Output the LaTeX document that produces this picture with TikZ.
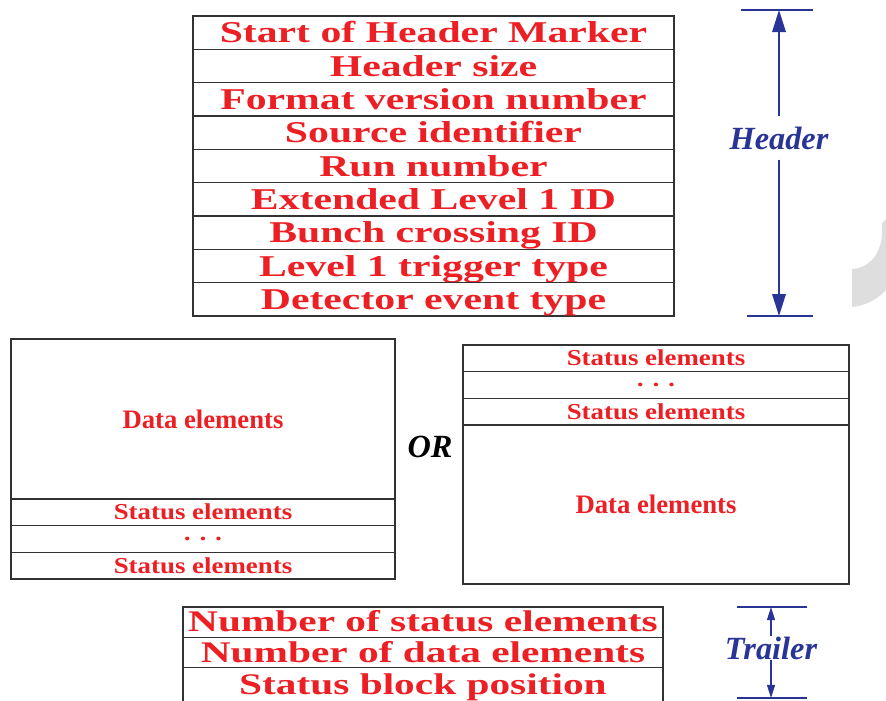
\documentclass[tikz,border=0pt]{standalone}
\usepackage{fontspec}
\setmainfont{Liberation Serif}
\newfontfamily\wideserif[FakeStretch=1.38]{Liberation Serif}
\newfontfamily\midserif[FakeStretch=1.18]{Liberation Serif}
\usepackage{tikz}
\usetikzlibrary{positioning}
\usetikzlibrary{arrows.meta}

\definecolor{fieldred}{RGB}{236,32,36}
\definecolor{markblue}{RGB}{40,52,150}
\definecolor{boxgray}{RGB}{50,50,50}

\begin{document}
\begin{tikzpicture}[
    x=0.025cm, y=-0.025cm,
    field/.style={rectangle,draw=boxgray,line width=0.9pt,inner sep=0pt,outer sep=0pt,text=fieldred},
    bigrow/.style={field,minimum width=12.025cm,minimum height=0.833cm,
        text height=0.5cm,text depth=0cm,
        font={\wideserif\fontsize{21.5}{22}\selectfont\bfseries}},
    tailrow/.style={field,minimum width=12cm,minimum height=0.76cm,
        text height=0.48cm,text depth=0cm,
        font={\wideserif\fontsize{21.3}{22}\selectfont\bfseries}},
    statrow/.style={field,minimum height=0.667cm,
        text height=0.37cm,text depth=0cm,
        font={\midserif\fontsize{16.2}{16}\selectfont\bfseries}},
    databox/.style={field,minimum height=4cm,
        text height=0.45cm,text depth=0cm,
        font={\fontsize{19}{19}\selectfont\bfseries}},
    span/.style={text=markblue,font={\fontsize{23}{23}\selectfont\bfseries\itshape},inner sep=0pt},
    tick/.style={draw=markblue,line width=1pt},
    dimarrow/.style={-{Triangle[length=0.55cm,width=0.34cm]},draw=markblue,fill=markblue,line width=1pt}
]
\useasboundingbox (0,0) rectangle (886,700);

% header block
\node[bigrow] (h1) at (433.5,32.7) {Start of Header Marker};
\node[bigrow,below=0pt of h1] (h2) {Header size};
\node[bigrow,below=0pt of h2] (h3) {Format version number};
\node[bigrow,below=0pt of h3] (h4) {Source identifier};
\node[bigrow,below=0pt of h4] (h5) {Run number};
\node[bigrow,below=0pt of h5] (h6) {Extended Level 1 ID};
\node[bigrow,below=0pt of h6] (h7) {Bunch crossing ID};
\node[bigrow,below=0pt of h7] (h8) {Level 1 trigger type};
\node[bigrow,below=0pt of h8] (h9) {Detector event type};

% header span
\node[span,inner ysep=0.25cm] (hlab) at (779,138) {Header};
\coordinate (htop) at (779,10);
\coordinate (hbot) at (779,316);
\draw[tick] ([xshift=-0.95cm]htop) -- ([xshift=0.85cm]htop);
\draw[tick,line width=1.6pt] ([xshift=-0.8cm]hbot) -- ([xshift=0.85cm]hbot);
\draw[dimarrow] (hlab) -- (htop);
\draw[dimarrow] (hlab) -- (hbot);

% data first, status after
\node[databox,minimum width=9.6cm] (ldata) at (203,419) {Data elements};
\node[statrow,minimum width=9.6cm,below=0pt of ldata] (ls1) {Status elements};
\node[statrow,minimum width=9.6cm,below=0pt of ls1] (ldots) {· · ·};
\node[statrow,minimum width=9.6cm,below=0pt of ldots] (ls2) {Status elements};

\node[span,text=black] (alt) at (430,447) {OR};

% status first, data after
\node[statrow,minimum width=9.65cm] (rs1) at (656,358.3) {Status elements};
\node[statrow,minimum width=9.65cm,below=0pt of rs1] (rdots) {· · ·};
\node[statrow,minimum width=9.65cm,below=0pt of rdots] (rs2) {Status elements};
\node[databox,minimum width=9.65cm,minimum height=3.975cm,below=0pt of rs2] (rdata) {Data elements};

% trailer block
\node[tailrow] (t1) at (423,622.2) {Number of status elements};
\node[tailrow,below=0pt of t1] (t2) {Number of data elements};
\node[tailrow,minimum height=0.85cm,below=0pt of t2] (t3) {Status block position};

% trailer span
\node[span] (tlab) at (771,648) {Trailer};
\coordinate (ttop) at (771,607);
\coordinate (tbot) at (771,698);
\draw[tick] ([xshift=-0.85cm]ttop) -- ([xshift=0.9cm]ttop);
\draw[tick,line width=1.6pt] ([xshift=-0.85cm]tbot) -- ([xshift=0.9cm]tbot);
\draw[dimarrow,-{Triangle[length=0.33cm,width=0.2cm]}] (tlab) -- (ttop);
\draw[dimarrow,-{Triangle[length=0.33cm,width=0.2cm]}] (tlab) -- (tbot);

% grey mark at the right edge
\fill[black!13] (882,223) -- (886,219) -- (886,290)
    .. controls (876,301) and (863,306) .. (852,307) -- (852,269)
    .. controls (869,268) and (882,254) .. (882,231) -- cycle;
\end{tikzpicture}
\end{document}
